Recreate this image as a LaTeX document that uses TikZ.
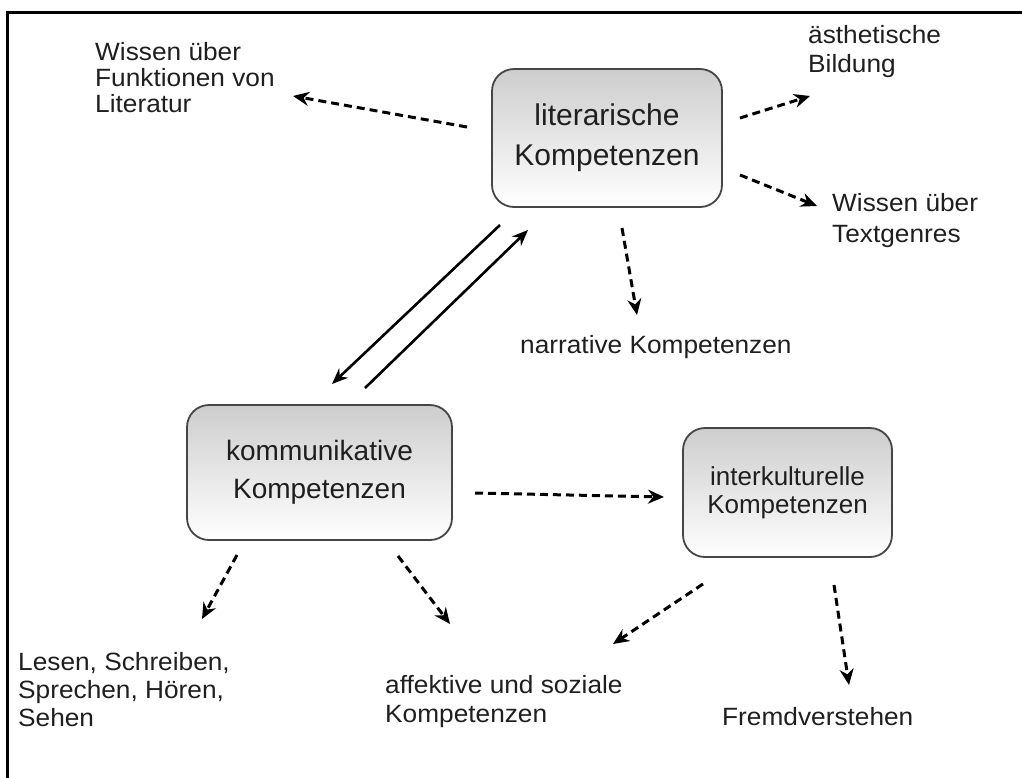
\documentclass[tikz,border=0pt]{standalone}
\usepackage{fontspec}
\setmainfont{Liberation Sans}
\newfontfamily\lblfont{Liberation Sans}[FakeStretch=1.05]
\usetikzlibrary{arrows.meta}
\begin{document}
\begin{tikzpicture}[x=1pt,y=-1pt,
  compbox/.style={draw={rgb,255:red,70;green,70;blue,70}, line width=1.8pt,
    rounded corners=22pt, top color={rgb,255:red,205;green,205;blue,205},
    bottom color=white, align=center, inner sep=0pt, text=black!88},
  lbl/.style={anchor=west, align=left, inner sep=0pt, text=black!88,
    font=\lblfont\fontsize{25}{27}\selectfont},
  dasharrow/.style={line width=3pt, dash pattern=on 8pt off 5pt,
    -{Stealth[length=16pt,width=14pt]}},
  solidarrow/.style={line width=2.6pt, -{Stealth[length=16pt,width=13pt]}}]
  \useasboundingbox (0,0) rectangle (1022,777);
  % frame
  \draw[line width=3pt] (7,790) -- (7,12) -- (1030,12);

  % the three competence boxes
  \node[compbox, minimum width=230pt, minimum height=138pt,
        font=\fontsize{30}{40}\selectfont] (lit) at (607,138)
        {literarische\\Kompetenzen};
  \node[compbox, minimum width=265pt, minimum height=135pt,
        font=\fontsize{28}{38}\selectfont] (kom) at (319.5,472.5)
        {kommunikative\\Kompetenzen};
  \node[compbox, minimum width=209pt, minimum height=129pt,
        font=\fontsize{26}{28}\selectfont] (int) at (787.5,492.5)
        {interkulturelle\\Kompetenzen};

  % labels
  \node[lbl, font=\lblfont\fontsize{25}{26}\selectfont] (wf) at (95,78) {Wissen über\\Funktionen von\\Literatur};
  \node[lbl, font=\lblfont\fontsize{25}{29}\selectfont] (ae) at (808,52) {ästhetische\\Bildung};
  \node[lbl, font=\lblfont\fontsize{25}{31}\selectfont] (tg) at (832,221) {Wissen über\\Textgenres};
  \node[lbl] (nar) at (520,347) {narrative Kompetenzen};
  \node[lbl, font=\lblfont\fontsize{25}{28}\selectfont] (les) at (18,690) {Lesen, Schreiben,\\Sprechen, Hören,\\Sehen};
  \node[lbl, font=\lblfont\fontsize{25}{29}\selectfont] (aff) at (385,702) {affektive und soziale\\Kompetenzen};
  \node[lbl] (fr) at (722,717) {Fremdverstehen};

  % arrow end points
  \coordinate (litW) at (467,127);
  \coordinate (wfE) at (293,96);
  \coordinate (litNE) at (740,118);
  \coordinate (aeW) at (810,96);
  \coordinate (litSE) at (740,175);
  \coordinate (tgW) at (817,206);
  \coordinate (litS) at (622,228);
  \coordinate (narN) at (637,315);
  \coordinate (litA) at (500,225);
  \coordinate (komA) at (332,384);
  \coordinate (komB) at (365,388);
  \coordinate (litB) at (528,230);
  \coordinate (komE) at (475,493);
  \coordinate (intW) at (664,497);
  \coordinate (komSW) at (237,555);
  \coordinate (lesN) at (202,619);
  \coordinate (komS) at (398,556);
  \coordinate (affN) at (450,624);
  \coordinate (intSW) at (703,584);
  \coordinate (affE) at (613,644);
  \coordinate (intS) at (834,585);
  \coordinate (frN) at (849,685);

  % connectors
  \draw[dasharrow] (litW) -- (wfE);
  \draw[dasharrow] (litNE) -- (aeW);
  \draw[dasharrow] (litSE) -- (tgW);
  \draw[dasharrow] (litS) -- (narN);
  \draw[solidarrow] (litA) -- (komA);
  \draw[solidarrow] (komB) -- (litB);
  \draw[dasharrow] (komE) -- (intW);
  \draw[dasharrow] (komSW) -- (lesN);
  \draw[dasharrow] (komS) -- (affN);
  \draw[dasharrow] (intSW) -- (affE);
  \draw[dasharrow] (intS) -- (frN);
\end{tikzpicture}
\end{document}
